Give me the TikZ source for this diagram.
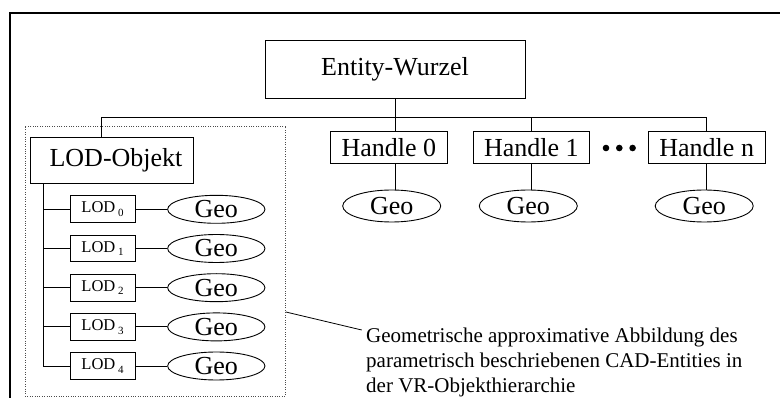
\documentclass[tikz,border=0pt]{standalone}
\usepackage{fontspec}
\setmainfont{Liberation Serif}
\usetikzlibrary{shapes.geometric}
\tikzset{
  big/.style={font=\fontsize{26}{30}\selectfont},
  boxa/.style={draw, line width=0.9pt, inner sep=0pt, big},
  geo/.style={draw, ellipse, line width=0.9pt, inner sep=0pt, big},
  lodbox/.style={draw, line width=0.9pt, inner sep=0pt, minimum width=65pt, minimum height=26.7pt},
  conn/.style={line width=0.9pt},
}
\newcommand{\lodlabel}[1]{{\fontsize{16.5}{18}\selectfont LOD\,\raisebox{-3.5pt}{\fontsize{11}{12}\selectfont #1}}}
\begin{document}
\begin{tikzpicture}[x=1pt,y=-1pt]
\useasboundingbox (0,0) rectangle (780,398);
% outer frame
\draw[line width=1.7pt] (10,400) -- (10,13) -- (782,13);
% dotted group
\node[draw=black!70, dash pattern=on 1pt off 1.4pt, line width=0.7pt, inner sep=0pt,
      minimum width=260.5pt, minimum height=270pt] (grp) at (155.3,261) {};
% top node
\node[boxa, minimum width=260pt, minimum height=58pt] (ew) at (395,69.7) {Entity-Wurzel};
% LOD object
\node[boxa, minimum width=162.6pt, minimum height=45.6pt] (lod) at (112,160.5) {\hspace*{8pt}LOD-Objekt};
% handles
\node[boxa, minimum width=117.7pt, minimum height=31.6pt] (h0) at (388.8,147.5) {Handle 0};
\node[boxa, minimum width=116pt, minimum height=31.6pt] (h1) at (531.3,147.5) {Handle 1};
\node[boxa, minimum width=116.7pt, minimum height=31.6pt] (hn) at (706.7,147.5) {Handle n};
% dots
\fill (606,148) circle (3.3pt) (619.3,148) circle (3.3pt) (632.6,148) circle (3.3pt);
% geo under handles
\node[geo, minimum width=98pt, minimum height=32pt] (g0) at (391.7,206) {Geo};
\node[geo, minimum width=98pt, minimum height=32pt] (g1) at (528.3,206) {Geo};
\node[geo, minimum width=98pt, minimum height=32pt] (gn) at (704.2,206) {Geo};
% bus
\coordinate (bus) at (0,117.7);
\coordinate (lodtop) at (101.7,137.7);
\draw[conn] (ew.south) -- (ew.south |- h0.north);
\draw[conn] (lodtop) |- (hn.north |- bus) -- (hn.north);
\draw[conn] (h1.north) -- (h1.north |- bus);
\draw[conn] (ew.south |- h0.south) -- (ew.south |- g0.north);
\draw[conn] (h1.south) -- (h1.south |- g1.north);
\draw[conn] (hn.south) -- (hn.south |- gn.north);
% LOD rows
\foreach \i/\y in {0/209.3,1/248.5,2/287.7,3/326.9,4/366}{
  \node[lodbox] (l\i) at (102.5,\y) {\lodlabel{\i}};
  \node[geo, minimum width=97.3pt, minimum height=28pt] (lg\i) at (216.3,\y) {Geo};
  \draw[conn] (l\i.east) -- (lg\i.west);
}
\coordinate (tr) at (43.3,183.3);
\draw[conn] (tr) -- (tr |- l4.west);
\foreach \i in {0,1,2,3,4}{
  \draw[conn] (tr |- l\i.west) -- (l\i.west);
}
% annotation
\node[anchor=north west, inner sep=0pt, align=left, font=\fontsize{21}{25}\selectfont] (note) at (366,328)
  {Geometrische approximative Abbildung des\\parametrisch beschriebenen CAD-Entities in\\der VR-Objekthierarchie};
\coordinate (ne) at (361.7,330);
\draw[line width=0.8pt] (grp.east |- 0,312) -- (ne);
\end{tikzpicture}
\end{document}
